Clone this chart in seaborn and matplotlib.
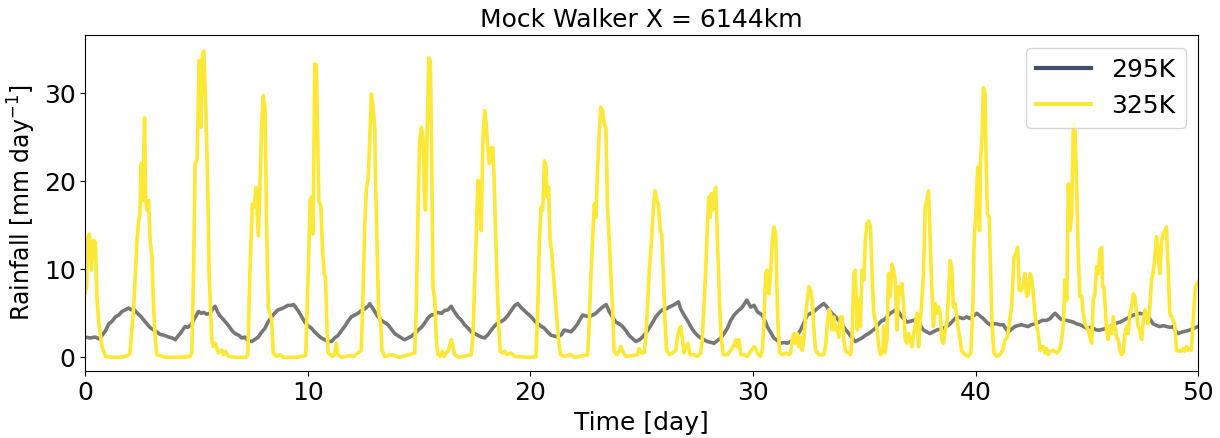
import numpy as np
import pandas as pd
import matplotlib
matplotlib.use("Agg")
import matplotlib.pyplot as plt
from matplotlib.lines import Line2D
import seaborn as sns

title = "Mock Walker X = 6144km"
labels = ["295K", "325K"]
xlabel = "Time [day]"
ylabel = "Rainfall [mm day$^{-1}$]"

# 295K series (time [day], rainfall)
t_295 = [0.00, 0.2, 0.45, 0.6, 0.75, 0.9, 1.05, 1.2, 1.35, 1.5, 1.64, 1.8, 1.94, 2.05, 2.17, 2.3, 2.47, 2.6, 2.77, 2.9,
         3.06, 3.2, 3.36, 3.55, 3.74, 3.9, 4.04, 4.15, 4.26, 4.4, 4.48, 4.6, 4.78, 4.9, 5.08, 5.2, 5.31, 5.45, 5.61, 5.72,
         5.83, 5.95, 6.05, 6.2, 6.43, 6.6, 6.73, 6.9, 7.03, 7.17, 7.3, 7.47, 7.6, 7.77, 7.9, 8.07, 8.2, 8.37, 8.5, 8.66,
         8.8, 8.96, 9.1, 9.26, 9.35, 9.56, 9.7, 9.86, 10.0, 10.16, 10.3, 10.46, 10.6, 10.76, 10.9, 11.06, 11.2, 11.36, 11.5, 11.65,
         11.8, 11.95, 12.1, 12.25, 12.4, 12.55, 12.7, 12.78, 12.9, 13.0, 13.15, 13.3, 13.6, 13.9, 14.2, 14.35, 14.5, 14.65, 14.8, 14.95,
         15.1, 15.25, 15.4, 15.55, 15.7, 15.84, 16.0, 16.14, 16.3, 16.44, 16.6, 16.74, 16.9, 17.04, 17.2, 17.34, 17.5, 17.64, 17.8, 17.94,
         18.1, 18.24, 18.4, 18.54, 18.7, 18.83, 19.0, 19.13, 19.3, 19.43, 19.6, 19.73, 19.9, 20.03, 20.2, 20.33, 20.5, 20.63, 20.8, 20.93,
         21.1, 21.23, 21.4, 21.52, 21.67, 21.82, 21.97, 22.12, 22.34, 22.5, 22.64, 22.8, 22.94, 23.1, 23.24, 23.4, 23.54, 23.7, 23.84, 24.0,
         24.14, 24.3, 24.43, 24.6, 24.73, 24.9, 25.03, 25.2, 25.33, 25.5, 25.63, 25.8, 25.93, 26.1, 26.23, 26.4, 26.53, 26.65, 26.75, 26.9,
         27.05, 27.2, 27.35, 27.5, 27.65, 27.8, 27.95, 28.1, 28.25, 28.4, 28.55, 28.70, 28.85, 29.0, 29.15, 29.3, 29.52, 29.72, 29.9, 30.05,
         30.19, 30.3, 30.42, 30.53, 30.64, 30.8, 30.94, 31.1, 31.24, 31.4, 31.54, 31.7, 31.84, 32.0, 32.14, 32.3, 32.44, 32.6, 32.74, 32.96,
         33.18, 33.3, 33.41, 33.55, 33.71, 33.85, 34.01, 34.15, 34.31, 34.45, 34.6, 34.75, 34.9, 35.05, 35.2, 35.35, 35.5, 35.65, 35.8, 35.87,
         36.02, 36.17, 36.3, 36.47, 36.58, 36.69, 36.8, 36.92, 37.07, 37.22, 37.33, 37.44, 37.55, 37.66, 37.8, 37.96, 38.1, 38.26, 38.4, 38.56,
         38.7, 38.86, 39.0, 39.16, 39.3, 39.46, 39.6, 39.76, 39.9, 40.06, 40.2, 40.35, 40.5, 40.65, 40.8, 40.95, 41.1, 41.25, 41.35, 41.48,
         41.62, 41.77, 41.9, 42.07, 42.2, 42.37, 42.5, 42.67, 42.85, 43.0, 43.2, 43.35, 43.45, 43.57, 43.7, 43.8, 43.95, 44.1, 44.25, 44.4,
         44.55, 44.7, 44.85, 45.0, 45.15, 45.29, 45.45, 45.59, 45.75, 45.89, 46.05, 46.19, 46.35, 46.49, 46.65, 46.79, 46.95, 47.09, 47.25, 47.38,
         47.55, 47.68, 47.85, 47.98, 48.15, 48.28, 48.45, 48.58, 48.75, 48.88, 49.0, 49.1, 49.2, 49.33, 49.5, 49.63, 49.8, 50.0]
r_295 = [2.3, 2.2, 2.3, 2.1, 2.5, 3.0, 3.8, 4.1, 4.6, 4.8, 5.2, 5.4, 5.6, 5.4, 5.5, 5.1, 4.7, 4.3, 3.8, 3.4,
         3.1, 2.9, 2.6, 2.5, 2.3, 2.2, 2.0, 2.4, 2.7, 3.2, 3.5, 3.4, 3.8, 4.4, 5.2, 5.0, 5.1, 4.9, 5.0, 5.5,
         5.8, 5.1, 4.7, 4.3, 3.6, 3.0, 2.7, 2.5, 2.2, 2.3, 1.9, 1.8, 2.0, 2.3, 2.8, 3.3, 4.0, 4.6, 5.0, 5.4,
         5.5, 5.7, 5.9, 5.9, 6.0, 5.3, 4.7, 4.0, 3.6, 3.3, 2.9, 2.5, 2.2, 2.0, 1.8, 1.8, 2.2, 2.5, 3.0, 3.5,
         4.1, 4.6, 4.8, 5.0, 5.3, 5.5, 5.8, 6.1, 5.6, 5.2, 4.6, 4.2, 3.7, 2.7, 2.2, 2.0, 2.2, 2.4, 2.7, 3.1,
         3.4, 3.9, 4.5, 4.8, 4.9, 5.1, 5.0, 5.3, 5.4, 5.8, 5.1, 4.6, 4.2, 3.7, 3.3, 2.9, 2.7, 2.5, 2.3, 2.2,
         2.6, 3.1, 3.6, 3.9, 4.1, 4.3, 4.8, 5.3, 5.9, 6.1, 5.6, 5.3, 4.9, 4.6, 4.1, 3.8, 3.5, 3.3, 2.8, 2.5,
         2.4, 2.3, 2.6, 3.1, 3.0, 2.9, 3.3, 3.8, 4.8, 4.7, 4.6, 4.8, 5.0, 5.4, 5.7, 6.0, 5.2, 4.5, 4.0, 3.8,
         3.5, 3.0, 2.5, 2.1, 1.8, 2.0, 2.3, 2.8, 3.3, 4.0, 4.6, 5.1, 5.4, 5.5, 5.7, 5.9, 6.1, 6.3, 5.5, 4.8,
         4.2, 3.5, 2.9, 2.5, 2.2, 2.0, 1.8, 1.7, 1.6, 1.9, 2.2, 2.7, 3.3, 4.2, 4.8, 5.2, 5.7, 6.5, 5.7, 5.9,
         5.2, 5.0, 4.8, 4.2, 3.5, 2.8, 2.2, 1.9, 1.6, 1.7, 1.6, 1.8, 2.0, 2.6, 3.1, 4.0, 4.8, 5.0, 5.2, 5.7,
         6.1, 5.8, 5.4, 5.0, 4.6, 4.2, 3.7, 3.2, 2.7, 2.2, 1.8, 2.0, 2.2, 2.5, 2.7, 3.0, 3.3, 3.8, 4.2, 4.2,
         4.6, 5.0, 5.2, 5.5, 5.0, 4.6, 4.3, 4.0, 4.1, 4.2, 4.3, 4.0, 3.5, 3.1, 2.9, 2.7, 2.9, 3.1, 3.2, 3.3,
         3.5, 3.8, 4.2, 4.6, 4.5, 4.4, 4.6, 4.4, 4.7, 5.0, 4.7, 4.4, 4.0, 3.7, 3.8, 3.8, 3.7, 3.7, 3.3, 2.9,
         3.2, 3.5, 3.6, 3.7, 3.6, 3.5, 3.7, 3.8, 4.0, 4.2, 4.2, 4.4, 4.7, 5.0, 4.7, 4.4, 4.2, 4.2, 4.1, 4.0,
         3.8, 3.7, 3.5, 3.3, 3.4, 3.3, 3.1, 3.1, 3.2, 3.3, 3.5, 3.7, 3.9, 4.0, 4.2, 4.4, 4.6, 4.8, 4.9, 5.0,
         4.9, 4.8, 4.3, 3.8, 3.6, 3.5, 3.6, 3.5, 3.4, 3.5, 3.0, 2.7, 2.8, 2.9, 3.0, 3.1, 3.3, 3.5]

# 325K series (time [day], rainfall)
t_325 = [0.00, 0.05, 0.10, 0.18, 0.27, 0.37, 0.45, 0.52, 0.60, 0.75, 0.90, 1.20, 1.60, 1.90, 2.00, 2.17, 2.32, 2.39, 2.45, 2.50,
         2.57, 2.66, 2.71, 2.77, 2.84, 2.91, 2.99, 3.06, 3.14, 3.21, 3.60, 4.20, 4.70, 4.78, 4.86, 4.93, 5.02, 5.11, 5.19, 5.26,
         5.32, 5.41, 5.50, 5.56, 5.68, 5.75, 5.83, 5.98, 6.13, 6.20, 6.28, 6.43, 6.80, 7.20, 7.30,
         7.39, 7.50, 7.59, 7.66, 7.77, 7.84, 7.92, 7.99, 8.07, 8.14, 8.22, 8.29, 8.37, 8.44, 8.59, 8.75, 8.90, 9.50, 9.90, 10.01,
         10.10, 10.16, 10.23, 10.31, 10.38, 10.43, 10.49, 10.58, 10.65, 10.73, 10.79, 10.85, 10.91, 11.10, 11.20, 11.28, 11.36, 11.50, 11.90, 12.05,
         12.40, 12.48, 12.55, 12.63, 12.70, 12.78, 12.85, 12.93, 13.00, 13.04, 13.10, 13.18, 13.27, 13.33, 13.45, 13.80, 14.10,
         14.80, 14.87, 14.95, 15.02, 15.10, 15.17, 15.25, 15.29, 15.35, 15.43, 15.50, 15.55, 15.62, 15.70, 15.77, 15.84, 15.95, 16.04, 16.12, 16.22,
         16.32, 16.44, 16.52, 16.59, 16.80, 17.34, 17.41, 17.49, 17.56, 17.64, 17.71, 17.79, 17.86, 17.94, 18.01, 18.09, 18.16, 18.24, 18.31, 18.36,
         18.42, 18.49, 18.57, 18.64, 18.75, 18.83, 18.95, 19.13, 19.30, 20.00, 20.25, 20.33, 20.40, 20.48, 20.55, 20.63, 20.70, 20.75, 20.82, 20.88,
         20.96, 21.03, 21.15, 21.26, 21.35,
         21.52, 21.80, 22.00, 22.57, 22.64, 22.72, 22.79, 22.87, 22.94, 23.01, 23.09, 23.16, 23.24, 23.31, 23.39, 23.46, 23.54, 23.61, 23.69, 23.76,
         23.88, 23.99, 24.06, 24.18, 24.30, 24.81, 24.88, 24.99, 25.11, 25.18, 25.26, 25.33, 25.44, 25.53, 25.60, 25.68, 25.75, 25.83, 25.90, 25.97,
         26.05, 26.12, 26.23, 26.38, 26.53, 26.60, 26.68, 26.75, 26.83, 26.90, 26.98, 27.08, 27.17, 27.35, 27.50, 27.65, 27.72, 27.87, 27.95, 28.02,
         28.07, 28.13, 28.19, 28.25, 28.32, 28.37, 28.43, 28.50, 28.58, 28.67,
         28.85, 29.00, 29.15, 29.22, 29.30, 29.37, 29.45, 29.60, 29.75, 29.90, 30.05, 30.12, 30.19, 30.34, 30.42, 30.49, 30.57, 30.64, 30.72, 30.79,
         30.87, 30.94, 31.02, 31.06, 31.12, 31.20, 31.32, 31.47, 31.61, 31.69, 31.76, 31.84, 31.91, 31.99, 32.06, 32.14, 32.21, 32.29, 32.36, 32.44,
         32.51, 32.59, 32.66, 32.74, 32.81, 32.96, 33.18, 33.26, 33.33, 33.41, 33.48, 33.56, 33.63, 33.71, 33.78, 33.86, 33.93, 34.01, 34.08, 34.16,
         34.31, 34.38, 34.45, 34.53, 34.60, 34.68, 34.75, 34.83, 34.90, 34.98, 35.05, 35.13, 35.20, 35.28, 35.35, 35.43, 35.50, 35.58, 35.65, 35.73,
         35.84,
         35.87, 35.94, 36.02, 36.09, 36.17, 36.24, 36.32, 36.39, 36.47, 36.54, 36.62, 36.69, 36.77, 36.84, 36.92, 36.99, 37.07, 37.14, 37.22, 37.29,
         37.36, 37.44, 37.51, 37.59, 37.66, 37.74, 37.81, 37.89, 37.96, 38.04, 38.11, 38.19, 38.26, 38.34, 38.41, 38.49, 38.56, 38.64, 38.71, 38.78,
         38.86, 38.93, 39.01, 39.08, 39.16, 39.23, 39.31, 39.38, 39.53, 39.68, 39.79, 39.88, 39.94, 40.03, 40.10, 40.18, 40.23, 40.29, 40.35, 40.43,
         40.47, 40.53, 40.62, 40.68, 40.74, 40.83, 40.95, 41.10, 41.22, 41.33, 41.43, 41.52, 41.62, 41.73, 41.82, 41.89, 41.97, 42.06, 42.15, 42.22,
         42.30, 42.37, 42.45, 42.52, 42.60, 42.67, 42.75, 42.82, 42.90, 43.01,
         43.05, 43.12, 43.20, 43.27, 43.35, 43.50, 43.65, 43.72, 43.80, 43.87, 43.95, 44.02, 44.10, 44.17, 44.25, 44.32, 44.40, 44.47, 44.54, 44.62,
         44.69, 44.77, 44.84, 44.92, 44.99, 45.07, 45.14, 45.22, 45.29, 45.37, 45.44, 45.52, 45.59, 45.67, 45.71, 45.77, 45.83, 45.89, 45.96, 46.04,
         46.11, 46.19, 46.26, 46.34, 46.41, 46.49, 46.56, 46.64, 46.71, 46.79, 46.86, 46.94, 47.01, 47.09, 47.16, 47.24, 47.31, 47.38, 47.46, 47.53,
         47.61, 47.68, 47.76, 47.83, 47.91, 47.98, 48.06, 48.13, 48.21, 48.28, 48.36, 48.43, 48.51, 48.58, 48.66, 48.73, 48.81, 48.88, 48.95, 49.03,
         49.10, 49.18, 49.25, 49.33, 49.40, 49.48, 49.55, 49.63, 49.70, 49.78, 49.88, 50.00]
r_325 = [7.4, 8.0, 13.5, 14.0, 9.9, 13.3, 13.0, 6.9, 3.8, 1.2, 0.1, 0.0, 0.0, 0.2, 0.4, 5.7, 13.3, 15.5, 16.3, 22.0,
         17.8, 27.2, 17.8, 16.7, 17.8, 13.3, 11.5, 6.0, 2.0, 0.3, 0.0, 0.0, 0.1, 0.5, 9.5, 22.0, 22.5, 33.7, 26.1, 34.4,
         34.8, 28.4, 18.9, 9.5, 2.0, 1.2, 1.6, 0.5, 0.8, 0.3, 0.7, 0.1, 0.0, 0.0, 0.3,
         9.5, 17.4, 17.1, 19.3, 13.8, 18.9, 26.5, 29.7, 28.4, 15.2, 5.7, 5.0, 4.2, 0.5, 0.1, 0.3, 0.0, 0.0, 0.2, 9.5,
         17.8, 18.2, 14.0, 33.3, 33.2, 26.5, 17.8, 17.1, 12.5, 9.5, 9.1, 3.8, 0.5, 0.1, 0.3, 1.6, 0.3, 0.0, 0.2, 0.1,
         0.8, 7.6, 14.8, 19.3, 20.1, 24.6, 29.9, 28.4, 26.1, 20.1, 13.3, 5.0, 3.8, 0.8, 0.1, 0.3, 0.0,
         0.5, 5.7, 17.1, 24.6, 26.1, 25.0, 17.1, 16.7, 24.6, 34.0, 33.7, 24.6, 8.0, 6.5, 2.0, 0.3, 0.1, 0.7, 0.1, 0.5,
         0.8, 2.0, 1.2, 0.3, 0.0, 0.3, 2.0, 8.4, 13.3, 20.1, 19.7, 14.4, 24.6, 28.0, 26.5, 23.5, 22.0, 23.8, 23.8, 20.8,
         15.2, 9.5, 3.8, 0.7, 0.5, 0.7, 0.3, 0.5, 0.1, 0.0, 0.1, 5.7, 13.3, 17.1, 16.7, 22.3, 21.6, 18.2, 19.3, 13.3,
         11.8, 9.5, 5.7, 2.0, 0.3,
         0.1, 0.3, 0.0, 0.3, 3.8, 9.5, 13.3, 17.4, 15.9, 20.8, 25.4, 28.4, 28.0, 26.5, 26.1, 17.1, 13.3, 9.5, 5.7, 0.7,
         0.3, 0.7, 1.2, 0.5, 0.1, 0.3, 1.0, 0.5, 0.5, 2.0, 5.7, 9.5, 13.3, 17.1, 18.9, 17.8, 17.4, 14.4, 14.0, 9.5,
         3.8, 0.8, 0.3, 0.5, 0.8, 2.3, 3.1, 3.5, 2.0, 0.5, 1.2, 1.6, 0.3, 0.3, 0.1, 0.5, 2.0, 9.5, 14.8, 18.2,
         15.9, 18.6, 16.7, 18.2, 19.3, 16.3, 11.5, 5.7, 2.0, 0.3,
         0.3, 0.8, 1.4, 2.0, 1.2, 2.0, 0.3, 0.3, 0.1, 0.7, 1.2, 1.0, 0.5, 0.1, 0.8, 3.8, 9.5, 9.9, 7.2, 9.5,
         13.3, 14.8, 14.0, 9.5, 3.8, 0.5, 0.3, 0.5, 0.3, 0.5, 2.0, 2.7, 1.6, 2.7, 1.2, 2.3, 0.8, 2.0, 4.6, 6.5,
         8.0, 7.6, 6.5, 3.1, 0.8, 0.3, 0.3, 1.2, 3.5, 5.4, 5.0, 3.1, 4.6, 3.1, 3.5, 2.3, 4.6, 4.6, 2.0, 0.7,
         0.5, 0.3, 2.0, 9.5, 9.9, 3.1, 6.5, 3.5, 9.9, 8.8, 13.3, 15.2, 15.5, 14.8, 9.5, 5.0, 4.2, 3.1, 1.2, 0.3,
         0.8,
         3.5, 0.5, 2.0, 9.5, 6.9, 10.6, 9.9, 8.8, 3.1, 8.0, 7.2, 8.4, 5.8, 2.0, 1.6, 2.7, 2.0, 1.2, 2.7, 3.5,
         5.0, 1.2, 3.8, 6.5, 9.5, 17.1, 17.8, 18.9, 13.3, 7.6, 3.5, 6.1, 5.0, 5.7, 5.0, 2.0, 1.6, 3.1, 3.8, 6.9,
         11.0, 10.3, 5.7, 6.1, 4.6, 3.1, 2.0, 0.7, 0.3, 0.1, 0.5, 5.7, 13.3, 17.1, 21.6, 14.4, 22.7, 24.6, 30.6, 29.9,
         23.1, 16.3, 15.9, 9.5, 3.8, 0.5, 0.1, 0.3, 0.8, 2.0, 2.3, 3.8, 5.7, 11.4, 11.8, 12.5, 7.6, 7.6, 8.4, 9.5,
         6.9, 7.2, 9.5, 9.1, 7.2, 5.0, 3.5, 2.7, 0.8, 1.2,
         1.2, 0.5, 1.0, 0.3, 0.7, 0.8, 0.5, 0.7, 1.0, 2.0, 3.8, 8.8, 6.5, 19.7, 14.4, 16.3, 26.5, 25.8, 20.1, 11.4,
         6.9, 6.9, 5.0, 3.8, 3.5, 3.1, 2.3, 1.6, 6.5, 7.2, 10.3, 9.5, 12.2, 12.5, 8.0, 8.0, 5.7, 3.1, 2.0, 3.5,
         2.7, 4.6, 3.5, 2.3, 2.0, 0.8, 0.3, 0.5, 2.7, 3.5, 2.7, 5.0, 5.7, 7.2, 6.9, 5.0, 3.5, 3.1, 2.0, 3.8,
         5.4, 4.6, 3.8, 5.7, 8.8, 9.5, 11.4, 13.7, 11.8, 9.5, 13.3, 14.0, 14.4, 14.8, 9.9, 5.0, 4.6, 4.2, 3.8, 0.8,
         0.7, 0.8, 0.7, 1.0, 0.7, 1.2, 0.8, 1.0, 0.8, 4.2, 8.0, 8.6]

color_295_line = "#777777"
color_295_legend = "#434e6b"
color_325 = "#fde838"

df_295 = pd.DataFrame({"time": t_295, "rain": r_295})
df_325 = pd.DataFrame({"time": t_325, "rain": r_325})

fig, ax = plt.subplots(figsize=(12.2, 4.38), dpi=100)
sns.lineplot(data=df_295, x="time", y="rain", ax=ax, color=color_295_line, linewidth=2.6, sort=False)
sns.lineplot(data=df_325, x="time", y="rain", ax=ax, color=color_325, linewidth=2.6, sort=False)

ax.set_xlim(0, 50)
ax.set_ylim(-1.6, 36.6)
ax.set_xticks([0, 10, 20, 30, 40, 50])
ax.set_yticks([0, 10, 20, 30])
ax.tick_params(labelsize=18)
ax.set_xlabel(xlabel, fontsize=18)
ax.set_ylabel(ylabel, fontsize=17)
ax.set_title(title, fontsize=18)

handles = [Line2D([0], [0], color=color_295_legend, lw=3),
           Line2D([0], [0], color=color_325, lw=3)]
ax.legend(handles, labels, loc="upper right", fontsize=18, handlelength=2.2)

fig.subplots_adjust(left=0.07, right=0.982, top=0.92, bottom=0.152)
fig.savefig("out.png", dpi=100)
